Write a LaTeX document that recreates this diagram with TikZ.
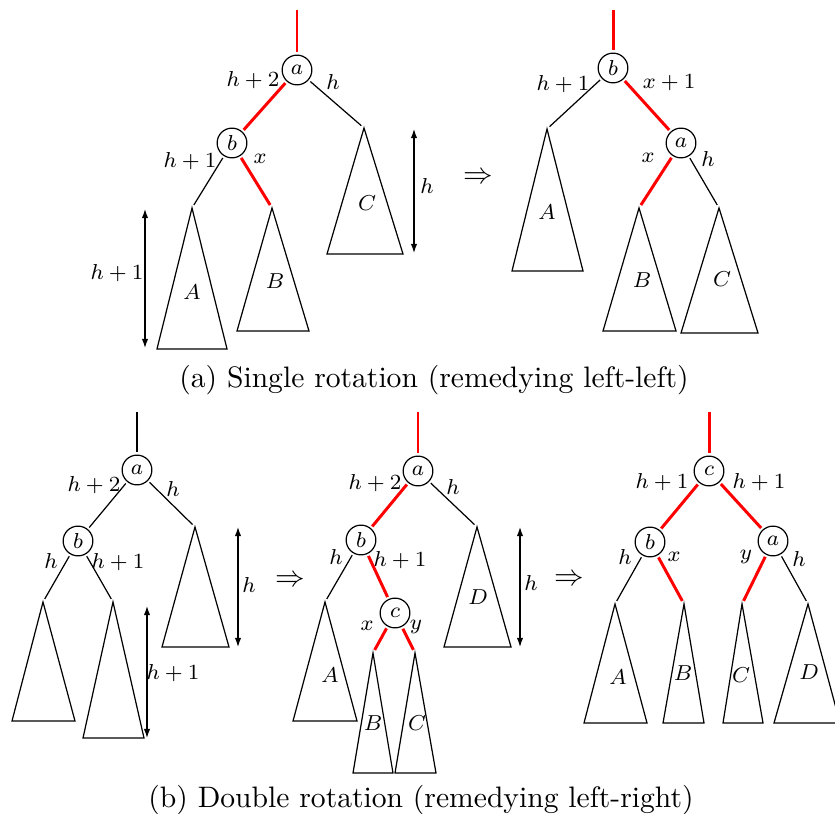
\documentclass[tikz,border=0pt]{standalone}
\usepackage{amsmath}
\usetikzlibrary{arrows.meta, positioning}
\tikzset{
  key/.style={circle, draw, line width=0.45pt, inner sep=0pt, outer sep=1pt,
    minimum size=11pt, font=\fontsize{7.6}{9}\selectfont},
  lbl/.style={font=\fontsize{7.6}{9}\selectfont, inner sep=0pt},
  cold/.style={line width=0.45pt},
  hot/.style={red, line width=1.1pt},
  toapex/.style={shorten >=1.3pt},
  dimarrow/.style={line width=0.45pt,
    {Latex[length=3.4pt,width=2.4pt]}-{Latex[length=3.4pt,width=2.4pt]}},
  caption/.style={font=\fontsize{10.95}{13}\selectfont, inner sep=0pt, anchor=base},
  implies/.style={font=\fontsize{10.6}{12}\selectfont, inner sep=0pt}
}
% subtree: name of apex, apex, left base corner, right base corner
\newcommand{\subtree}[4]{%
  \coordinate (#1) at (#2);
  \draw[cold] (#1) -- (#3) -- (#4) -- cycle;}

\begin{document}
\begin{tikzpicture}[x=0.013cm, y=-0.013cm]
  \useasboundingbox (0,0) rectangle (835,814);

  % (a) before: left-left
  \coordinate (ra1) at (297,10);
  \node[key] (a1) at (297,70) {$a$};
  \node[key] (b1) at (232,143) {$b$};
  \subtree{A1}{192,208}{157,349}{227,349}
  \subtree{B1}{272,208}{237,331}{309,331}
  \subtree{C1}{364,128}{327,254}{403,254}
  \draw[hot] (ra1) -- (a1);
  \draw[hot] (a1) -- (b1);
  \draw[cold, toapex] (a1) -- (C1);
  \draw[cold, toapex] (b1) -- (A1);
  \draw[hot, toapex] (b1) -- (B1);
  \node[lbl] (la1) at (253,80) {$h+2$};
  \node[lbl] (la2) at (333,82) {$h$};
  \node[lbl] (la3) at (190,161) {$h+1$};
  \node[lbl] (la4) at (260,159) {$x$};
  \node[lbl] (tA1) at (192,292) {$A$};
  \node[lbl] (tB1) at (275,281) {$B$};
  \node[lbl] (tC1) at (367,203) {$C$};
  \coordinate (d1t) at (145,209);
  \coordinate (d1b) at (145,348);
  \draw[dimarrow] (d1t) -- (d1b);
  \node[lbl] (ld1) at (117,273) {$h+1$};
  \coordinate (d2t) at (414,129);
  \coordinate (d2b) at (414,253);
  \draw[dimarrow] (d2t) -- (d2b);
  \node[lbl] (ld2) at (427,186) {$h$};
  \node[implies] (to1) at (478,178) {$\Rightarrow$};

  % (a) after
  \coordinate (ra2) at (613,10);
  \node[key] (b2) at (613,68) {$b$};
  \node[key] (a2) at (681,143) {$a$};
  \subtree{A2}{547,129}{512,271}{583,271}
  \subtree{B2}{639,208}{603,331}{676,331}
  \subtree{C2}{719,208}{681,333}{758,333}
  \draw[hot] (ra2) -- (b2);
  \draw[cold, toapex] (b2) -- (A2);
  \draw[hot] (b2) -- (a2);
  \draw[hot, toapex] (a2) -- (B2);
  \draw[cold, toapex] (a2) -- (C2);
  \node[lbl] (lb1) at (563,84) {$h+1$};
  \node[lbl] (lb2) at (669,83) {$x+1$};
  \node[lbl] (lb3) at (648,158) {$x$};
  \node[lbl] (lb4) at (708,159) {$h$};
  \node[lbl] (tA2) at (547,212) {$A$};
  \node[lbl] (tB2) at (642,280) {$B$};
  \node[lbl] (tC2) at (722,279) {$C$};

  \node[caption] (capa) at (434,388) {(a) Single rotation (remedying left-left)};

  % (b) before: left-right
  \coordinate (ra3) at (137,412);
  \node[key] (a3) at (137,470) {$a$};
  \node[key] (b3) at (78,541) {$b$};
  \subtree{L3}{43,602}{12,721}{75,721}
  \subtree{M3}{113,602}{83,738}{144,738}
  \subtree{R3}{195,527}{162,647}{229,647}
  \draw[cold] (ra3) -- (a3);
  \draw[cold] (a3) -- (b3);
  \draw[cold, toapex] (a3) -- (R3);
  \draw[cold, toapex] (b3) -- (L3);
  \draw[cold, toapex] (b3) -- (M3);
  \node[lbl] (lc1) at (94,485) {$h+2$};
  \node[lbl] (lc2) at (173,489) {$h$};
  \node[lbl] (lc3) at (51,561) {$h$};
  \node[lbl] (lc4) at (118,562) {$h+1$};
  \coordinate (d3t) at (238,527);
  \coordinate (d3b) at (238,647);
  \draw[dimarrow] (d3t) -- (d3b);
  \node[lbl] (ld3) at (249,585) {$h$};
  \coordinate (d4t) at (147,606);
  \coordinate (d4b) at (147,738);
  \draw[dimarrow] (d4t) -- (d4b);
  \node[lbl] (ld4) at (173,673) {$h+1$};
  \node[implies] (to2) at (290,581) {$\Rightarrow$};

  % (b) middle
  \coordinate (ra4) at (418,412);
  \node[key] (a4) at (418,471) {$a$};
  \node[key] (b4) at (361,540) {$b$};
  \node[key] (c4) at (395,613) {$c$};
  \subtree{A4}{325,602}{293,721}{357,721}
  \subtree{B4}{373,653}{353,773}{393,773}
  \subtree{C4}{415,653}{395,773}{436,773}
  \subtree{D4}{477,527}{444,647}{511,647}
  \draw[hot] (ra4) -- (a4);
  \draw[hot] (a4) -- (b4);
  \draw[cold, toapex] (a4) -- (D4);
  \draw[cold, toapex] (b4) -- (A4);
  \draw[hot] (b4) -- (c4);
  \draw[hot, toapex] (c4) -- (B4);
  \draw[hot, toapex] (c4) -- (C4);
  \node[lbl] (ld5) at (375,483) {$h+2$};
  \node[lbl] (ld6) at (453,487) {$h$};
  \node[lbl] (ld7) at (336,557) {$h$};
  \node[lbl] (ld8) at (400,560) {$h+1$};
  \node[lbl] (ld9) at (367,626) {$x$};
  \node[lbl] (ld10) at (416,627) {$y$};
  \node[lbl] (tA4) at (330,675) {$A$};
  \node[lbl] (tB4) at (373,723) {$B$};
  \node[lbl] (tC4) at (417,723) {$C$};
  \node[lbl] (tD4) at (478,597) {$D$};
  \coordinate (d5t) at (520,527);
  \coordinate (d5b) at (520,647);
  \draw[dimarrow] (d5t) -- (d5b);
  \node[lbl] (ld11) at (531,583) {$h$};
  \node[implies] (to3) at (569,580) {$\Rightarrow$};

  % (b) after
  \coordinate (ra5) at (709,412);
  \node[key] (c5) at (709,471) {$c$};
  \node[key] (b5) at (650,542) {$b$};
  \node[key] (a5) at (773,541) {$a$};
  \subtree{A5}{615,604}{584,723}{647,723}
  \subtree{B5}{684,604}{663,723}{704,723}
  \subtree{C5}{742,604}{723,723}{763,723}
  \subtree{D5}{808,604}{774,723}{840,723}
  \draw[hot] (ra5) -- (c5);
  \draw[hot] (c5) -- (b5);
  \draw[hot] (c5) -- (a5);
  \draw[cold, toapex] (b5) -- (A5);
  \draw[hot, toapex] (b5) -- (B5);
  \draw[hot, toapex] (a5) -- (C5);
  \draw[cold, toapex] (a5) -- (D5);
  \node[lbl] (le1) at (662,482) {$h+1$};
  \node[lbl] (le2) at (759,482) {$h+1$};
  \node[lbl] (le3) at (625,557) {$h$};
  \node[lbl] (le4) at (674,557) {$x$};
  \node[lbl] (le5) at (746,557) {$y$};
  \node[lbl] (le6) at (799,559) {$h$};
  \node[lbl] (tA5) at (618,677) {$A$};
  \node[lbl] (tB5) at (683,673) {$B$};
  \node[lbl] (tC5) at (741,675) {$C$};
  \node[lbl] (tD5) at (809,672) {$D$};

  \node[caption] (capb) at (421,807) {(b) Double rotation (remedying left-right)};
\end{tikzpicture}
\end{document}
